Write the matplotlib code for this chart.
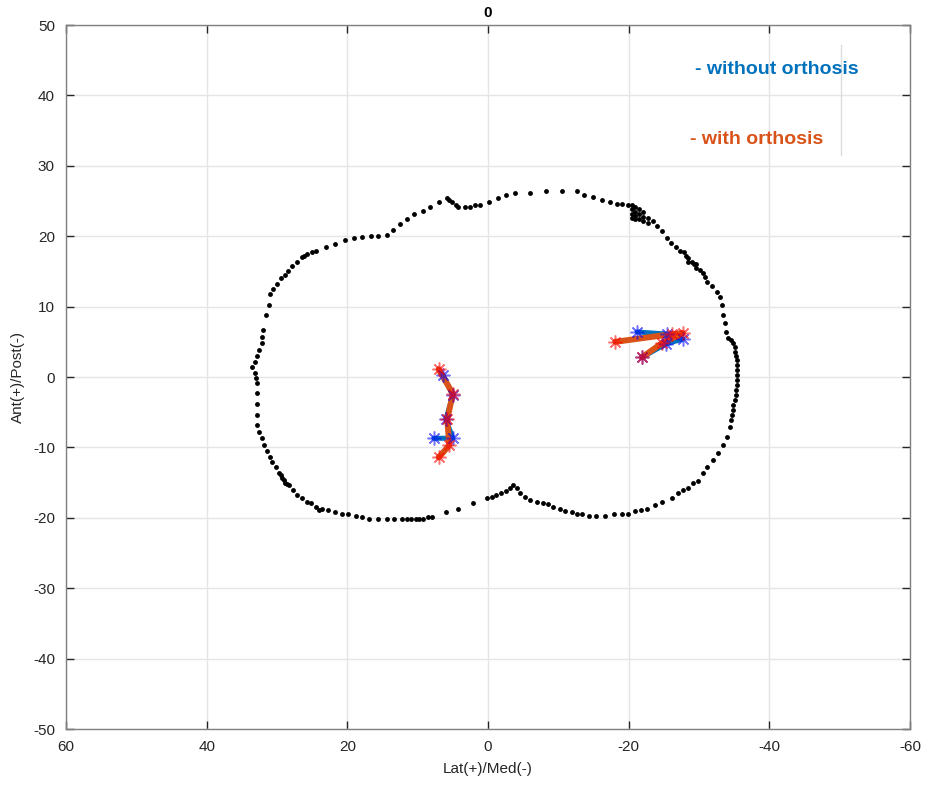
import numpy as np
import matplotlib
matplotlib.use("Agg")
import matplotlib.pyplot as plt

plt.rcParams['font.family'] = ['Liberation Sans', 'DejaVu Sans']
plt.rcParams['axes.unicode_minus'] = False

# contorno del piatto tibiale (punti neri), in senso orario
contour_x = [33.5, 33.1, 32.8, 32.5, 32.2, 32.1, 32.0, 31.5, 31.2, 31.0, 30.5, 30.0, 29.4,
             28.8, 28.4, 27.8, 27.1, 26.5, 26.1, 25.7, 25.0, 24.4, 23.1, 21.7, 20.4, 19.0,
             17.9, 16.6, 15.6, 14.3, 13.5, 12.5, 11.5, 10.5, 9.3, 8.2, 7.0, 5.9, 5.5, 5.1,
             4.6, 4.2, 3.3, 2.6, 1.9, 1.2, -0.1, -1.4, -2.6, -3.9, -6.0, -8.3, -10.5, -12.6,
             -13.7, -14.9, -16.2, -17.3, -18.3, -19.1, -19.9,
             -20.4, -20.4, -20.4, -20.4, -20.9, -20.9, -20.9, -20.9, -21.4, -21.4, -21.4,
             -22.0, -22.0, -22.0, -22.7, -22.7,
             -23.4, -24.0, -24.7, -25.4, -26.0, -26.7, -27.3, -27.8, -28.1, -28.5, -28.5,
             -29.0, -29.3, -29.5, -29.5, -30.1, -30.5, -30.8, -31.1, -31.8, -32.5, -33.0,
             -33.2, -33.4, -33.7, -33.9, -34.1, -34.5, -34.9, -35.1, -35.1, -35.2, -35.4,
             -35.4, -35.4, -35.4, -35.4, -35.4, -35.2, -35.2, -35.1, -34.9, -34.8, -34.7,
             -34.5, -34.4, -34.0, -33.4, -32.7, -32.0, -31.2, -30.5, -29.8, -29.1, -28.4,
             -27.7, -27.0, -26.1, -24.8, -23.7, -22.6, -21.7, -20.9, -19.9, -19.0, -17.9,
             -16.7, -15.4, -14.3, -13.3, -12.6, -11.9, -11.0, -10.2, -9.3, -8.5, -7.8, -6.9,
             -6.0, -5.3, -4.6, -4.1, -3.5, -3.1, -2.6, -1.9, -1.2, -0.5, 0.2, 2.2, 4.2, 6.0,
             8.0, 8.6, 9.2, 9.8, 10.3, 10.9, 11.5, 12.2, 13.3, 14.4, 15.7, 16.9, 17.9, 18.7,
             19.9, 20.7, 21.7, 22.8, 23.6, 24.0, 24.4, 25.1, 25.8, 26.4, 27.1, 27.7, 28.3,
             28.6, 28.8, 29.0, 29.3, 29.5, 29.7, 30.1, 30.7, 31.0, 31.4, 31.8, 32.2, 32.5,
             32.8, 32.8, 32.8, 32.8, 32.8, 33.0, 33.2]
contour_y = [1.4, 2.1, 3.0, 3.8, 4.8, 5.7, 6.7, 8.8, 10.3, 11.8, 12.5, 13.2, 14.0,
             14.5, 15.1, 15.8, 16.4, 17.1, 17.2, 17.5, 17.8, 17.9, 18.5, 18.9, 19.4, 19.8,
             19.9, 20.1, 20.1, 20.2, 20.9, 21.8, 22.5, 23.2, 23.6, 24.2, 24.8, 25.4, 25.1, 24.8,
             24.5, 24.2, 24.2, 24.2, 24.4, 24.4, 24.9, 25.4, 25.8, 26.2, 26.2, 26.4, 26.4, 26.4,
             25.9, 25.5, 25.1, 24.8, 24.6, 24.6, 24.5,
             24.5, 23.9, 23.2, 22.6, 24.1, 23.5, 22.9, 22.5, 23.8, 23.1, 22.4,
             23.4, 22.7, 22.1, 22.6, 21.9,
             22.1, 21.4, 20.7, 19.8, 19.1, 18.4, 17.9, 17.7, 17.2, 16.9, 16.4,
             16.4, 16.0, 16.1, 15.5, 15.2, 14.8, 14.2, 13.5, 13.0, 12.1, 11.3,
             10.3, 8.8, 7.7, 6.4, 5.6, 5.3, 4.8, 4.3, 3.6, 3.0, 2.4,
             1.7, 1.0, 0.3, -0.4, -1.1, -1.9, -2.6, -3.3, -4.0, -4.7, -5.4,
             -6.1, -7.1, -8.5, -9.7, -10.8, -11.8, -12.8, -13.7, -14.7, -15.1, -15.7,
             -16.1, -16.5, -17.2, -17.8, -18.2, -18.8, -18.9, -19.1, -19.4, -19.5, -19.5,
             -19.7, -19.8, -19.8, -19.5, -19.4, -19.2, -19.1, -18.8, -18.5, -18.1, -17.9, -17.7,
             -17.4, -17.1, -16.5, -15.8, -15.4, -15.8, -16.2, -16.5, -16.8, -17.1, -17.2, -17.9, -18.7, -19.2,
             -19.9, -19.9, -20.1, -20.1, -20.1, -20.1, -20.2, -20.2, -20.2, -20.2, -20.2, -20.1, -19.9, -19.8,
             -19.5, -19.4, -19.2, -18.9, -18.7, -18.9, -18.4, -17.9, -17.7, -17.2, -16.8, -16.0, -15.4,
             -15.2, -15.0, -14.6, -14.4, -13.9, -13.7, -12.8, -12.0, -11.3, -10.5, -9.7, -8.7, -7.8,
             -6.8, -5.4, -3.8, -2.3, -0.9, -0.1, 0.6]

# traiettorie senza ortesi (blu)
noorth_lat_x = [6.4, 5.0, 6.0, 5.0, 7.7]
noorth_lat_y = [0.3, -2.6, -6.0, -8.7, -8.7]
noorth_med_x = [-21.2, -25.5, -27.7, -25.3, -21.9]
noorth_med_y = [6.4, 6.1, 5.4, 4.7, 2.8]

# traiettorie con ortesi (arancio)
orth_lat_x = [7.0, 5.0, 5.8, 5.5, 7.0]
orth_lat_y = [1.1, -2.4, -6.0, -9.7, -11.4]
orth_med_x = [-18.1, -26.2, -27.7, -24.7, -21.9]
orth_med_y = [5.0, 6.1, 6.25, 4.8, 2.8]

blue = '#0072BD'
orange = '#D95319'
ast = (8, 2, 0)

fig = plt.figure(figsize=(9.27, 7.89), dpi=100)
ax = fig.add_axes([0.0712, 0.076, 0.9105, 0.8923])

ax.plot(contour_x, contour_y, 'o', color='k', markersize=3.5, markeredgewidth=0, zorder=2)

for xs, ys in [(noorth_lat_x, noorth_lat_y), (noorth_med_x, noorth_med_y)]:
    ax.plot(xs, ys, '-', color=blue, linewidth=3.6, solid_capstyle='round',
            solid_joinstyle='round', zorder=3)
for xs, ys in [(orth_lat_x, orth_lat_y), (orth_med_x, orth_med_y)]:
    ax.plot(xs, ys, '-', color=orange, linewidth=4.3, solid_capstyle='round',
            solid_joinstyle='round', zorder=4)
for xs, ys in [(noorth_lat_x, noorth_lat_y), (noorth_med_x, noorth_med_y)]:
    ax.plot(xs, ys, linestyle='none', marker=ast, markersize=10, markeredgewidth=1.1,
            markeredgecolor='b', alpha=0.55, zorder=5)
for xs, ys in [(orth_lat_x, orth_lat_y), (orth_med_x, orth_med_y)]:
    ax.plot(xs, ys, linestyle='none', marker=ast, markersize=10, markeredgewidth=1.1,
            markeredgecolor='r', alpha=0.55, zorder=6)

ax.text(-29.4, 43.7, '- without orthosis', color=blue, fontsize=14, fontweight='bold',
        va='center', ha='left')
ax.text(-28.7, 33.8, '- with orthosis', color=orange, fontsize=14, fontweight='bold',
        va='center', ha='left')
ax.axvline(-50.2, ymin=0.815, ymax=0.972, color='#dcdcdc', linewidth=1, zorder=1)

ax.set_xlim(60, -60)
ax.set_ylim(-50, 50)
ax.set_xticks(np.arange(60, -61, -20))
ax.set_yticks(np.arange(-50, 51, 10))
ax.grid(True, color='#e5e5e5', linewidth=1)
ax.set_axisbelow(True)
ax.tick_params(direction='in', length=6, width=1, color='#262626', labelsize=11,
               labelcolor='#262626', top=True, right=True, pad=8)
for s in ax.spines.values():
    s.set_color('#808080')
    s.set_linewidth(1)

ax.set_title('0', fontsize=11, fontweight='bold', pad=6)
ax.set_xlabel('Lat(+)/Med(-)', fontsize=11, color='#262626', labelpad=6)
ax.set_ylabel('Ant(+)/Post(-)', fontsize=11, color='#262626', labelpad=6)

fig.savefig('out.png', dpi=100)
